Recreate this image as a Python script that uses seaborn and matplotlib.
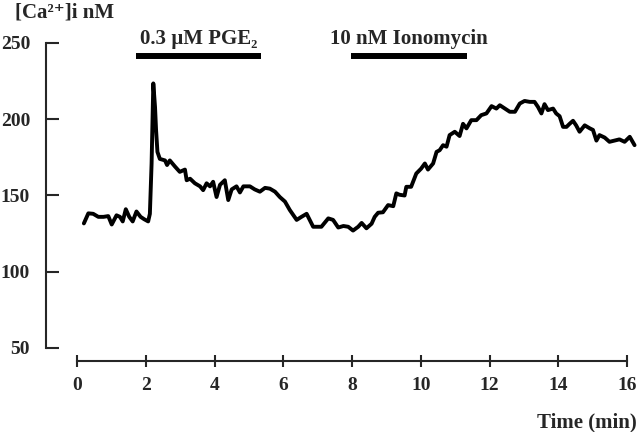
import numpy as np
import pandas as pd
import seaborn as sns
import matplotlib.pyplot as plt

# trace: time (min) vs [Ca2+]i (nM)
time_min = [0.20, 0.33, 0.47, 0.62, 0.77, 0.91, 1.01, 1.15, 1.25, 1.33, 1.42, 1.52,
            1.62, 1.73, 1.85, 1.95, 2.07, 2.12, 2.17, 2.22, 2.27, 2.30, 2.34, 2.41,
            2.56, 2.62, 2.70, 2.85, 2.99, 3.14, 3.19, 3.29, 3.43, 3.58, 3.67, 3.77,
            3.87, 3.96, 4.06, 4.16, 4.30, 4.40, 4.50, 4.64, 4.74, 4.84, 5.03, 5.17,
            5.32, 5.47, 5.61, 5.76, 5.90, 6.05, 6.19, 6.39, 6.53, 6.68, 6.87, 7.11,
            7.31, 7.45, 7.60, 7.75, 7.89, 8.03, 8.18, 8.28, 8.42, 8.57, 8.66, 8.76,
            8.90, 9.05, 9.20, 9.29, 9.38, 9.53, 9.58, 9.72, 9.87, 10.01, 10.12, 10.21,
            10.36, 10.46, 10.55, 10.65, 10.75, 10.84, 10.99, 11.13, 11.23, 11.33, 11.47,
            11.62, 11.76, 11.91, 12.06, 12.20, 12.30, 12.45, 12.59, 12.74, 12.88, 13.02,
            13.17, 13.31, 13.41, 13.51, 13.60, 13.70, 13.85, 13.94, 14.04, 14.14, 14.24,
            14.33, 14.43, 14.52, 14.62, 14.77, 14.92, 15.01, 15.11, 15.20, 15.35, 15.49,
            15.64, 15.78, 15.93, 16.08, 16.22]
ca_nM = [131.7, 138.3, 138.0, 136.0, 136.0, 136.5, 131.0, 137.0, 136.0, 133.0, 141.0, 136.0,
         133.0, 139.5, 136.0, 134.5, 133.0, 138.0, 171.0, 223.5, 208.0, 193.0, 178.6, 174.0,
         173.0, 170.0, 173.0, 169.0, 165.5, 167.0, 160.0, 161.0, 158.0, 156.0, 153.5, 158.0,
         156.0, 159.0, 149.0, 157.0, 160.0, 147.0, 154.0, 156.0, 152.0, 156.0, 156.0, 154.0,
         152.5, 155.0, 154.5, 152.5, 149.0, 146.0, 140.5, 134.0, 136.0, 138.0, 129.5, 129.5,
         135.0, 134.0, 129.0, 130.0, 129.5, 127.0, 129.5, 132.0, 128.5, 131.5, 136.0, 138.7,
         139.0, 143.7, 143.0, 151.4, 150.5, 150.0, 155.7, 155.7, 164.4, 167.6, 171.0, 167.0,
         171.0, 178.6, 179.7, 183.0, 182.0, 189.6, 191.8, 189.0, 197.0, 194.0, 199.4,
         199.4, 202.7, 203.8, 208.6, 207.0, 209.2, 207.0, 204.9, 204.9, 210.3, 212.0,
         211.4, 211.4, 208.1, 203.8, 209.9, 206.0, 207.0, 203.8, 202.0, 195.0, 195.0,
         197.0, 199.0, 196.0, 191.8, 196.0, 194.0, 193.0, 186.0, 189.6, 188.0, 185.2,
         186.0, 186.8, 185.2, 188.5, 183.0]

# treatment windows (min)
pge2_window = [1.72, 5.35]
iono_window = [7.97, 11.34]
pge2_label = "0.3 µM PGE₂"
iono_label = "10 nM Ionomycin"

df = pd.DataFrame({"time": time_min, "ca": ca_nM})

sns.set_style("ticks")
plt.rcParams["font.family"] = ["Liberation Serif", "DejaVu Serif"]
plt.rcParams["font.weight"] = "bold"

fig = plt.figure(figsize=(6.4, 4.32), dpi=100)
ax = fig.add_axes([77 / 640, 84 / 432, 550 / 640, 305 / 432])

sns.lineplot(data=df, x="time", y="ca", ax=ax, color="black", lw=2.8,
             clip_on=False, sort=False)

ax.set_xlim(0, 16)
ax.set_ylim(50, 250)
ax.set_xticks(range(0, 17, 2))
ax.set_yticks(range(50, 251, 50))
ax.set_xlabel("")
ax.set_ylabel("")

sns.despine(ax=ax, offset={"left": 22.3, "bottom": 9.4}, trim=True)
for side in ["left", "bottom"]:
    ax.spines[side].set_linewidth(1.5)
ax.tick_params(axis="y", direction="in", length=9.4, width=1.5, pad=11.5,
               labelsize=14)
ax.tick_params(axis="x", direction="inout", length=8.6, width=1.5, pad=7.5,
               labelsize=14)
for lab in ax.get_xticklabels() + ax.get_yticklabels():
    lab.set_fontweight("bold")

# treatment bars
bar_y = 241.3
for win, lab in [(pge2_window, pge2_label), (iono_window, iono_label)]:
    ax.plot(win, [bar_y, bar_y], color="black", lw=4.3, clip_on=False,
            solid_capstyle="butt")
    ax.text(sum(win) / 2, bar_y + 5, lab, ha="center", va="bottom",
            fontsize=15, fontweight="bold", clip_on=False)

fig.text(15 / 640, 1 - 13 / 432, "[Ca²⁺]i nM", ha="left", va="center",
         fontsize=15, fontweight="bold")
fig.text(637 / 640, 10 / 432, "Time (min)", ha="right", va="center",
         fontsize=15, fontweight="bold")

fig.savefig("out.png", dpi=100)
